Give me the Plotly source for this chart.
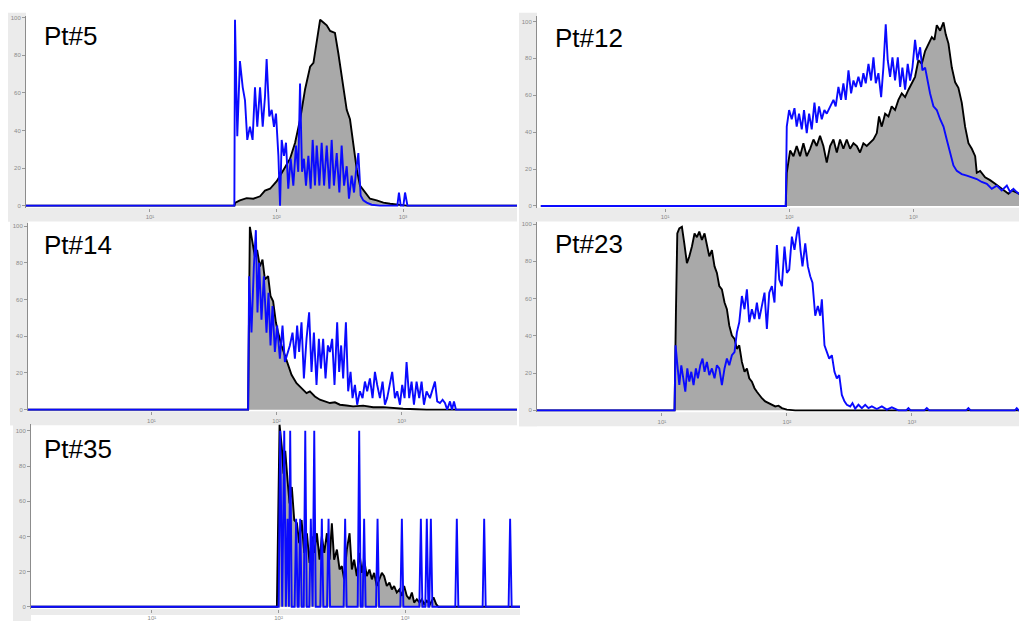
import plotly.graph_objects as go

W, H = 1019, 621

# Histogram data: x = log10 fluorescence intensity, y = % of max.
# "ctrl" = grey filled black-outlined histogram, "stain" = blue overlay.
pt5_ctrl = [(0.0, 0), (1.667, 0), (1.675, 1.6), (1.711, 2.8), (1.764, 4), (1.817, 3.7), (1.870, 5),
            (1.909, 8), (1.949, 9), (2.002, 13), (2.055, 19), (2.107, 25), (2.147, 33.5), (2.187, 46),
            (2.226, 62), (2.266, 74), (2.292, 76), (2.318, 88), (2.345, 99), (2.371, 97.5), (2.397, 96),
            (2.424, 93), (2.462, 92), (2.489, 81), (2.515, 70), (2.555, 51), (2.581, 46), (2.608, 32),
            (2.634, 19.5), (2.660, 10.7), (2.700, 7), (2.739, 3.7), (2.792, 2.8), (2.845, 1.6),
            (2.898, 1), (2.976, 0.3), (3.029, 0), (4.0, 0)]
pt5_stain = [(0.0, 0), (1.667, 0), (1.672, 99), (1.690, 37), (1.711, 77), (1.733, 63), (1.751, 56),
             (1.769, 35), (1.790, 42), (1.811, 35), (1.830, 63), (1.848, 42), (1.870, 63), (1.891, 42),
             (1.909, 58), (1.922, 78), (1.943, 47.5), (1.962, 51), (1.980, 42), (1.996, 49), (2.015, 26.5),
             (2.028, 0), (2.041, 35), (2.059, 26.5), (2.075, 33.5), (2.093, 9), (2.112, 25), (2.133, 10.7),
             (2.154, 32), (2.172, 18), (2.186, 65), (2.202, 18), (2.217, 25), (2.233, 10.7), (2.252, 26.5),
             (2.270, 9), (2.286, 35), (2.304, 10.7), (2.318, 32), (2.339, 10.7), (2.357, 33.5),
             (2.376, 10.7), (2.397, 32), (2.418, 9), (2.436, 35), (2.454, 10.7), (2.476, 28), (2.497, 7),
             (2.515, 32), (2.534, 10.7), (2.555, 21), (2.573, 3.7), (2.594, 16), (2.613, 7), (2.628, 18),
             (2.647, 28), (2.665, 5.4), (2.686, 2.8), (2.713, 1.6), (2.752, 0.5), (2.818, 0), (2.955, 0),
             (2.968, 7), (2.982, 0), (3.003, 0), (3.016, 7), (3.035, 0), (4.0, 0)]

pt12_ctrl = [(0.0, 0), (1.972, 0), (1.980, 18), (2.007, 30), (2.034, 27), (2.060, 32.5), (2.087, 27),
             (2.114, 34), (2.141, 27), (2.168, 31), (2.195, 36), (2.221, 32.5), (2.248, 38), (2.275, 32.5),
             (2.302, 23.5), (2.329, 32.5), (2.356, 36), (2.383, 29), (2.409, 36), (2.436, 31), (2.463, 36),
             (2.490, 31), (2.517, 34), (2.544, 32.5), (2.570, 29), (2.597, 34), (2.624, 32.5), (2.651, 34),
             (2.678, 36), (2.705, 39.5), (2.723, 48.5), (2.745, 43), (2.772, 50), (2.799, 48.5),
             (2.825, 54), (2.852, 52), (2.879, 57.5), (2.906, 61), (2.933, 59), (2.960, 63), (2.987, 66.5),
             (3.013, 70), (3.040, 79), (3.067, 77), (3.094, 84), (3.121, 88), (3.148, 91.5), (3.169, 90),
             (3.188, 98), (3.215, 95), (3.242, 99.5), (3.260, 93), (3.282, 88), (3.309, 75), (3.336, 67),
             (3.362, 64), (3.389, 56), (3.416, 43), (3.443, 34), (3.470, 31), (3.497, 27), (3.510, 18),
             (3.537, 19), (3.577, 15.5), (3.617, 14), (3.658, 12), (3.698, 10), (3.738, 8.4),
             (3.765, 6.6), (3.792, 8.4), (3.819, 7.5), (3.851, 6.6), (3.9, 6)]
pt12_stain = [(0.0, 0), (1.972, 0), (1.980, 43), (1.999, 52), (2.020, 47), (2.042, 53), (2.060, 43),
              (2.079, 50), (2.101, 41.5), (2.119, 52), (2.141, 39.5), (2.160, 50), (2.181, 41.5),
              (2.203, 56), (2.221, 45), (2.240, 54), (2.262, 47), (2.283, 52), (2.302, 50), (2.329, 54),
              (2.356, 57.5), (2.374, 54), (2.396, 64.5), (2.417, 57.5), (2.436, 66.5), (2.455, 57.5),
              (2.477, 73.5), (2.498, 61), (2.517, 68), (2.536, 64.5), (2.557, 70), (2.579, 64.5),
              (2.597, 72), (2.616, 66.5), (2.638, 77), (2.659, 68), (2.678, 80.5), (2.697, 66.5),
              (2.718, 72), (2.740, 59), (2.758, 75), (2.777, 98.5), (2.793, 79), (2.812, 70), (2.831, 80.5),
              (2.852, 68), (2.874, 80.5), (2.893, 64.5), (2.911, 75), (2.933, 63), (2.954, 77), (2.973, 68),
              (2.992, 75), (3.013, 90), (3.032, 79), (3.054, 86), (3.072, 73.5), (3.094, 75), (3.115, 66.5),
              (3.134, 61), (3.161, 54), (3.188, 52), (3.215, 47), (3.242, 43), (3.268, 36), (3.295, 29),
              (3.322, 22), (3.349, 19), (3.389, 17.3), (3.430, 16.4), (3.470, 15.5), (3.510, 14.6),
              (3.550, 13), (3.591, 12), (3.631, 9.3), (3.671, 11), (3.711, 8.4), (3.752, 11), (3.779, 7.5),
              (3.805, 9.3), (3.832, 7.5), (3.851, 6.6), (3.9, 6)]

pt14_ctrl = [(0.0, 0), (1.773, 0), (1.787, 99.6), (1.808, 90.7), (1.827, 83.5), (1.845, 87), (1.867, 78),
             (1.888, 81.7), (1.907, 71), (1.933, 72.7), (1.952, 62), (1.973, 59), (1.995, 47.6), (2.013, 42),
             (2.040, 35), (2.067, 29.6), (2.093, 24), (2.120, 19), (2.160, 14.4), (2.200, 11.7), (2.240, 9),
             (2.267, 10), (2.307, 7.2), (2.347, 5.4), (2.387, 4.5), (2.427, 3.6), (2.467, 4), (2.507, 2.7),
             (2.560, 2.3), (2.613, 1.8), (2.693, 2.2), (2.773, 1.3), (2.853, 1.4), (2.933, 0.9),
             (3.013, 0.5), (3.120, 0.2), (3.200, 0), (4.0, 0)]
pt14_stain = [(0.0, 0), (1.773, 0), (1.781, 72.7), (1.800, 42), (1.819, 78), (1.835, 97.8), (1.848, 53),
              (1.861, 80), (1.880, 49), (1.899, 72.7), (1.920, 42), (1.936, 63.7), (1.952, 35), (1.968, 56.5),
              (1.987, 31.4), (2.005, 45.8), (2.027, 27.8), (2.048, 45.8), (2.067, 26), (2.085, 29.6),
              (2.107, 35), (2.128, 42), (2.147, 27.8), (2.165, 45.8), (2.181, 31.4), (2.200, 47.6),
              (2.219, 17), (2.240, 38.6), (2.261, 53), (2.280, 20.6), (2.299, 42), (2.320, 13.5),
              (2.339, 38.6), (2.355, 22.4), (2.373, 38.6), (2.392, 17), (2.411, 35), (2.427, 31.4),
              (2.445, 38.6), (2.464, 13.5), (2.485, 47.6), (2.501, 20.6), (2.517, 35), (2.533, 17),
              (2.555, 47.6), (2.573, 10), (2.592, 20.6), (2.608, 6.3), (2.627, 13.5), (2.645, 2.7),
              (2.667, 10), (2.688, 6.3), (2.707, 15.3), (2.725, 10), (2.747, 17), (2.768, 6.3),
              (2.787, 20.6), (2.805, 13.5), (2.827, 6.3), (2.848, 15.3), (2.867, 2.7), (2.885, 6.3),
              (2.907, 13.5), (2.925, 20.6), (2.947, 6.3), (2.965, 10), (2.987, 2.7), (3.005, 13.5),
              (3.024, 6.3), (3.040, 26), (3.061, 6.3), (3.080, 15.3), (3.099, 2.7), (3.120, 15.3),
              (3.141, 6.3), (3.160, 15.3), (3.179, 2.7), (3.200, 10), (3.227, 6.3), (3.248, 11.7),
              (3.267, 15.3), (3.285, 4.5), (3.307, 3.6), (3.328, 5.4), (3.347, 3.6), (3.365, 0),
              (3.387, 4.5), (3.403, 0), (3.419, 4.5), (3.435, 0), (4.0, 0)]

pt23_ctrl = [(0.0, 0), (1.101, 0), (1.112, 52.6), (1.123, 95), (1.139, 97.7), (1.160, 98.6), (1.179, 89.7),
             (1.200, 79), (1.219, 82.7), (1.240, 88), (1.261, 95), (1.280, 93), (1.299, 96), (1.320, 91.5),
             (1.341, 95), (1.360, 88), (1.379, 82.7), (1.400, 86), (1.421, 77.3), (1.440, 73.8),
             (1.459, 66.7), (1.480, 65), (1.501, 57.9), (1.520, 54.3), (1.539, 45.5), (1.560, 40.2),
             (1.581, 38.4), (1.600, 33), (1.619, 34.9), (1.640, 26), (1.661, 20.7), (1.680, 22.5),
             (1.699, 17.2), (1.720, 15.4), (1.741, 11.9), (1.760, 10), (1.779, 8.3), (1.800, 6.5),
             (1.827, 4.8), (1.853, 3.9), (1.880, 3), (1.907, 2.1), (1.933, 2.5), (1.960, 1.2),
             (2.000, 0.4), (2.067, 0), (4.0, 0)]
pt23_stain = [(0.0, 0), (1.101, 0), (1.109, 34.9), (1.123, 22.5), (1.139, 13.6), (1.155, 24.2),
              (1.171, 17.2), (1.187, 10), (1.203, 22.5), (1.219, 15.4), (1.235, 20.7), (1.253, 13.6),
              (1.272, 22.5), (1.288, 17.2), (1.307, 24.2), (1.325, 27.8), (1.341, 20.7), (1.360, 26),
              (1.379, 18.9), (1.400, 22.5), (1.421, 17.2), (1.440, 24.2), (1.459, 22.5), (1.480, 13.6),
              (1.501, 22.5), (1.520, 27.8), (1.539, 24.2), (1.560, 29.6), (1.581, 31.3), (1.600, 41.9),
              (1.619, 47.3), (1.640, 61.4), (1.661, 54.3), (1.680, 65), (1.699, 47.3), (1.720, 54.3),
              (1.741, 49), (1.760, 57.9), (1.779, 49), (1.800, 56.1), (1.821, 63.2), (1.840, 43.7),
              (1.859, 63.2), (1.880, 66.7), (1.901, 57.9), (1.920, 88.8), (1.939, 70.3), (1.960, 66.7),
              (1.981, 88), (2.000, 73.8), (2.019, 75.6), (2.040, 93.3), (2.061, 86.2), (2.080, 95),
              (2.093, 98.6), (2.109, 86.2), (2.125, 77.3), (2.147, 89.7), (2.168, 77.3), (2.187, 72),
              (2.205, 68.5), (2.227, 50.8), (2.248, 56.1), (2.267, 50.8), (2.280, 59.6), (2.301, 34.9),
              (2.320, 31.3), (2.339, 27.8), (2.360, 29.6), (2.381, 20.7), (2.400, 17.2), (2.419, 18.9),
              (2.440, 8.3), (2.461, 4.8), (2.480, 3), (2.507, 2.1), (2.525, 3.9), (2.547, 0.9), (2.573, 3),
              (2.600, 1.2), (2.627, 3), (2.653, 1.2), (2.680, 2.1), (2.720, 0.7), (2.760, 2.1), (2.800, 0.4),
              (2.840, 1.6), (2.893, 0), (2.955, 0), (2.973, 1.2), (2.990, 0), (3.100, 0), (3.120, 1.2),
              (3.140, 0), (3.435, 0), (3.453, 1.2), (3.470, 0), (3.825, 0), (3.840, 1.2), (3.855, 0),
              (3.9, 0)]

pt35_ctrl = [(0.0, 0), (1.987, 0), (2.008, 103.5), (2.026, 90.6), (2.039, 75.6), (2.053, 88.7),
             (2.071, 71.9), (2.087, 58.7), (2.105, 68.1), (2.124, 49.3), (2.145, 47.5), (2.163, 36.2),
             (2.182, 49.3), (2.203, 30.6), (2.224, 41.8), (2.245, 25), (2.263, 40), (2.282, 30.6),
             (2.303, 41.8), (2.324, 26.8), (2.342, 40), (2.361, 30.6), (2.382, 41.8), (2.403, 26.8),
             (2.421, 47.5), (2.439, 26.8), (2.461, 32.5), (2.482, 21.2), (2.500, 23.1), (2.518, 15.6),
             (2.539, 32.5), (2.561, 41.8), (2.579, 21.2), (2.597, 26.8), (2.618, 17.4), (2.639, 30.6),
             (2.658, 19.3), (2.676, 26.8), (2.697, 17.4), (2.718, 21.2), (2.737, 15.6), (2.755, 19.3),
             (2.776, 11.8), (2.797, 15.6), (2.816, 19.3), (2.834, 17.4), (2.855, 11.8), (2.876, 13.7),
             (2.895, 9.9), (2.913, 11.8), (2.934, 8.1), (2.955, 9.9), (2.974, 6.2), (2.992, 11.8),
             (3.013, 6.2), (3.034, 4.3), (3.053, 8.1), (3.071, 2.4), (3.092, 4.3), (3.113, 2.4),
             (3.132, 4.3), (3.150, 1.5), (3.171, 3.4), (3.197, 1.5), (3.224, 5.3), (3.245, 1.5),
             (3.263, 0), (4.0, 0)]
pt35_stain = [(0.0, 0), (2.001, 0), (2.013, 100), (2.029, 0), (2.045, 100), (2.058, 0), (2.071, 50),
              (2.082, 0), (2.092, 100), (2.104, 0), (2.127, 0), (2.139, 50), (2.151, 0), (2.159, 0),
              (2.171, 50), (2.183, 0), (2.199, 0), (2.211, 100), (2.223, 0), (2.243, 0), (2.255, 50),
              (2.269, 0), (2.282, 100), (2.294, 0), (2.330, 0), (2.342, 50), (2.354, 0), (2.383, 0),
              (2.395, 50), (2.407, 0), (2.514, 0), (2.526, 50), (2.538, 0), (2.625, 0), (2.637, 100),
              (2.649, 0), (2.664, 0), (2.676, 50), (2.688, 0), (2.770, 0), (2.782, 50), (2.794, 0),
              (2.962, 0), (2.974, 50), (2.986, 0), (3.112, 0), (3.124, 50), (3.136, 0), (3.159, 0),
              (3.171, 50), (3.183, 0), (3.191, 0), (3.203, 50), (3.215, 0), (3.396, 0), (3.408, 50),
              (3.420, 0), (3.612, 0), (3.624, 50), (3.636, 0), (3.817, 0), (3.829, 50), (3.841, 0),
              (4.0, 0)]

labels = ["Pt#5", "Pt#12", "Pt#14", "Pt#23", "Pt#35"]
ctrl_series = [pt5_ctrl, pt12_ctrl, pt14_ctrl, pt23_ctrl, pt35_ctrl]
stain_series = [pt5_stain, pt12_stain, pt14_stain, pt23_stain, pt35_stain]

y_tickvals = [0, 20, 40, 60, 80, 100]
x_tickvals = [1, 2, 3]
x_ticktext = ["10\u00b9", "10\u00b2", "10\u00b3"]

# Panel geometry in pixels: plot left/right, top/bottom, and axis ranges
panels = [
    dict(x0=26, x1=517, y0=15, y1=209, xr=(0.020, 3.901), yr=(-1.05, 101.05), lab=(42, 35)),
    dict(x0=537, x1=1019, y0=15, y1=209, xr=(-0.031, 3.850), yr=(-0.91, 103.05), lab=(553, 37)),
    dict(x0=28, x1=517, y0=225, y1=415, xr=(0.013, 3.923), yr=(-0.9, 101.45), lab=(42, 247)),
    dict(x0=537, x1=1019, y0=224, y1=416, xr=(0.000, 3.858), yr=(-1.06, 100.9), lab=(553, 246)),
    dict(x0=31, x1=520, y0=428, y1=615, xr=(0.045, 3.907), yr=(-1.3, 103.8), lab=(42, 453)),
]

fig = go.Figure()
layout = dict(width=W, height=H, margin=dict(l=0, r=0, t=0, b=0),
              paper_bgcolor="white", plot_bgcolor="white", showlegend=False)
shapes, annotations = [], []
tickfont = dict(family="Liberation Sans, Arial", size=6, color="#8a8a8a")

for i, (p, lab, ctrl, stain) in enumerate(zip(panels, labels, ctrl_series, stain_series)):
    n = "" if i == 0 else str(i + 1)
    xa, ya = "x" + n, "y" + n
    cx, cy = zip(*ctrl)
    sx, sy = zip(*stain)
    fig.add_trace(go.Scatter(x=cx, y=cy, mode="lines", fill="tozeroy", fillcolor="#a9a9a9",
                             line=dict(color="black", width=1.9), xaxis=xa, yaxis=ya, hoverinfo="skip"))
    fig.add_trace(go.Scatter(x=sx, y=sy, mode="lines",
                             line=dict(color="#0a0aff", width=1.9), xaxis=xa, yaxis=ya, hoverinfo="skip"))
    layout["xaxis" + n] = dict(domain=[p["x0"] / W, p["x1"] / W], range=list(p["xr"]), anchor=ya,
                               showgrid=False, zeroline=False, showline=False,
                               tickvals=x_tickvals, ticktext=x_ticktext, ticks="outside",
                               ticklen=3, tickcolor="#999", tickfont=tickfont, fixedrange=True)
    layout["yaxis" + n] = dict(domain=[1 - p["y1"] / H, 1 - p["y0"] / H], range=list(p["yr"]), anchor=xa,
                               showgrid=False, zeroline=False, showline=True, linecolor="#8c8c8c",
                               linewidth=1, tickvals=y_tickvals, ticks="outside", ticklen=3,
                               tickcolor="#999", tickfont=tickfont, fixedrange=True)
    # light grey strips behind the tick labels
    shapes.append(dict(type="rect", xref="paper", yref="paper", layer="below", line_width=0,
                       fillcolor="#ebebeb", x0=(p["x0"] - 18) / W, x1=p["x0"] / W,
                       y0=1 - (p["y1"] + 14) / H, y1=1 - (p["y0"] - 3) / H))
    shapes.append(dict(type="rect", xref="paper", yref="paper", layer="below", line_width=0,
                       fillcolor="#ebebeb", x0=(p["x0"] - 18) / W, x1=p["x1"] / W,
                       y0=1 - min(p["y1"] + 14, H) / H, y1=1 - p["y1"] / H))
    annotations.append(dict(text=lab, xref="paper", yref="paper", x=p["lab"][0] / W, y=1 - p["lab"][1] / H,
                            xanchor="left", yanchor="middle", showarrow=False,
                            font=dict(family="Liberation Sans, Arial", size=26, color="black")))

layout["shapes"] = shapes
layout["annotations"] = annotations
fig.update_layout(**layout)
fig.write_html("out.html")
